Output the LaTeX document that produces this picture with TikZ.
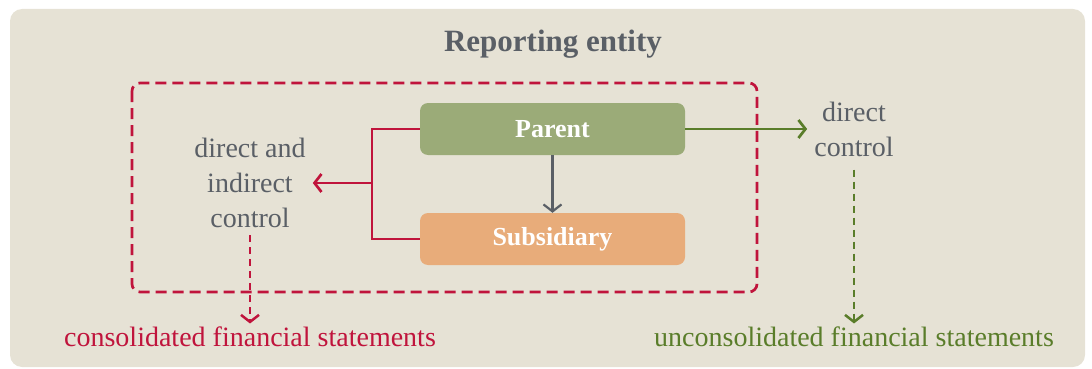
\documentclass[tikz,border=0pt]{standalone}
\usepackage{fontspec}
\setmainfont{Liberation Serif}
\usetikzlibrary{arrows.meta}

\definecolor{crimson}{HTML}{C0143C}
\definecolor{olive}{HTML}{5A7D2A}
\definecolor{parentgreen}{HTML}{9BAB78}
\definecolor{subsorange}{HTML}{E8AC7A}
\definecolor{paper}{HTML}{E6E2D5}
\definecolor{inkgray}{HTML}{5A5F66}

\begin{document}
\begin{tikzpicture}[x=1pt, y=-1pt,
    >={Straight Barb[length=7pt, width=18pt]},
    entity/.style={rounded corners=8pt, minimum width=265pt, minimum height=52pt,
        text=white, font=\fontsize{26}{26}\selectfont\bfseries},
    ctrltext/.style={text=inkgray, align=center, inner sep=7pt,
        font=\fontsize{28}{35}\selectfont},
    fstext/.style={font=\fontsize{28}{28}\selectfont}]
    \useasboundingbox (0,0) rectangle (1092,369);

    % Background
    \fill[paper, rounded corners=12pt] (10,9) rectangle (1085,367);
    \node[text=inkgray, font=\fontsize{31}{31}\selectfont\bfseries] (title) at (553,44) {Reporting entity};

    % Consolidation boundary
    \draw[crimson, line width=2.7pt, dash pattern=on 11pt off 6pt, rounded corners=8pt] (132,83) rectangle (757,292);

    % Entities
    \node[entity, fill=parentgreen] (parent) at (552.5,129) {Parent};
    \node[entity, fill=subsorange] (subsidiary) at (552.5,239) {Subsidiary};
    \draw[->, inkgray, line width=2.2pt] (parent.south) -- (subsidiary.north);

    % Control labels
    \node[ctrltext] (indirect) at (250,183) {direct and\\indirect\\control};
    \node[ctrltext] (direct) at (854,129) {direct\\control};

    % Control connectors
    \coordinate (fork) at (372,183);
    \draw[crimson, line width=2.7pt] (parent.west) -| (fork) |- (subsidiary.west);
    \draw[->, crimson, line width=2.7pt] (fork) -- (indirect.east);
    \draw[->, olive, line width=2.7pt] (parent.east) -- (direct.west);

    % Financial statements
    \node[fstext, text=crimson] (consolidated) at (250,337) {consolidated financial statements};
    \node[fstext, text=olive] (unconsolidated) at (854,337) {unconsolidated financial statements};
    \draw[->, crimson, line width=2.5pt, dash pattern=on 7pt off 5pt] (indirect.south) -- (consolidated.north);
    \draw[->, olive, line width=2.5pt, dash pattern=on 7pt off 5pt, shorten <=6pt] (direct.south) -- (unconsolidated.north);
\end{tikzpicture}
\end{document}
